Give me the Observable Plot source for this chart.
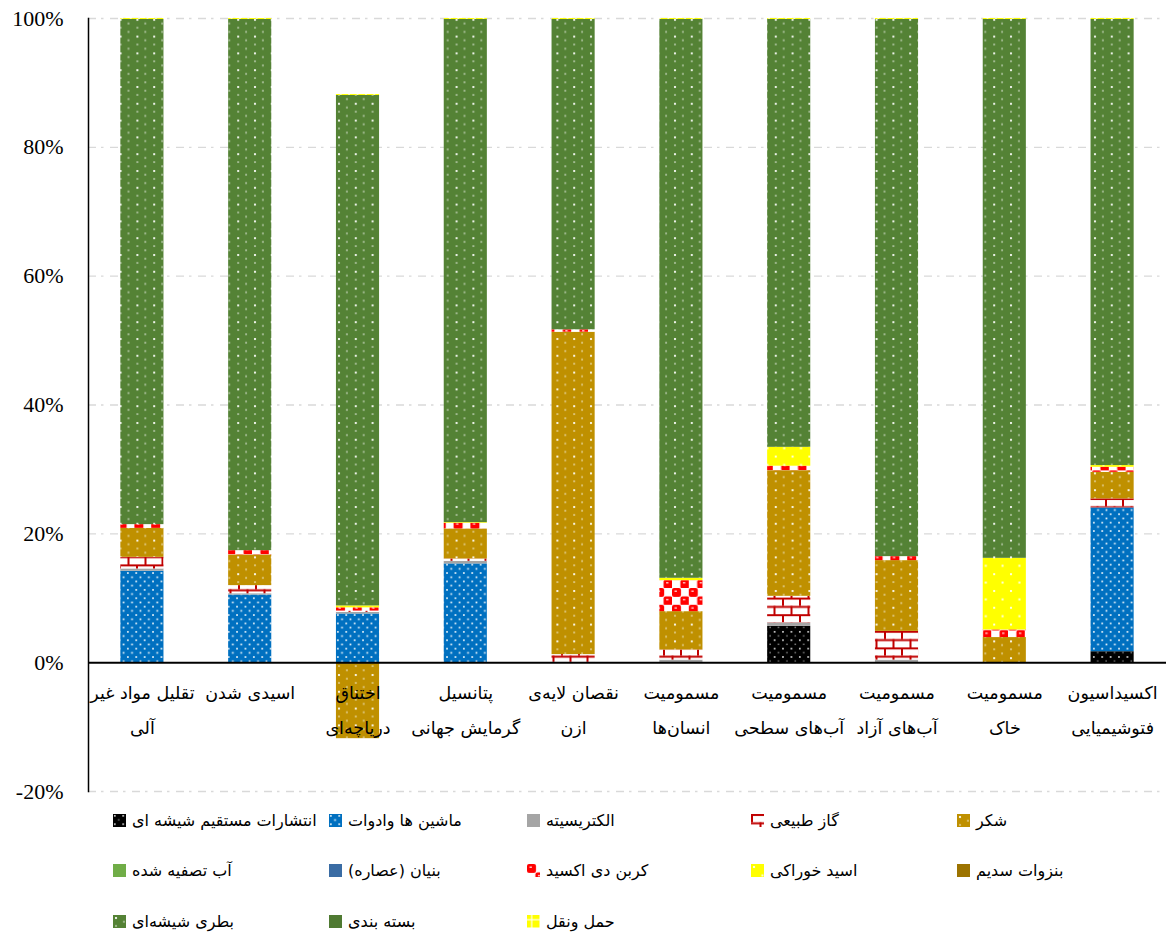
<!DOCTYPE html>
<html><head><meta charset="utf-8">
<script src="https://cdn.jsdelivr.net/npm/d3@7"></script>
<script src="https://cdn.jsdelivr.net/npm/@observablehq/plot@0.6"></script>
<style>
body{margin:0;background:#fff;}
#wrap{width:1166px;height:936px;position:relative;overflow:hidden;background:#fff;}
#legend{position:relative;width:1166px;height:136px;font-family:"DejaVu Sans",sans-serif;font-size:16px;color:#000;}
.item{position:absolute;display:flex;align-items:center;white-space:nowrap;height:20px;}
.item svg{display:block;}
.item span{direction:rtl;unicode-bidi:embed;margin-left:6px;}
</style></head><body>
<svg width="0" height="0" style="position:absolute">
<defs>
<pattern id="p-emis" patternUnits="userSpaceOnUse" width="8.4" height="8.4">
 <rect width="8.4" height="8.4" fill="#000"/>
 <rect x="1" y="1" width="1.6" height="1.6" fill="#fff" opacity="0.9"/>
 <rect x="5.2" y="5.2" width="1" height="1.4" fill="#fff" opacity="0.8"/>
</pattern>
<pattern id="p-mach" patternUnits="userSpaceOnUse" width="8.4" height="8.4">
 <rect width="8.4" height="8.4" fill="#0070C0"/>
 <rect x="1" y="1" width="1.7" height="1.7" fill="#fff" opacity="0.9"/>
 <rect x="5.2" y="5.2" width="1.7" height="1.7" fill="#fff" opacity="0.9"/>
</pattern>
<pattern id="p-gas" patternUnits="userSpaceOnUse" width="17" height="16.6">
 <rect width="17" height="16.6" fill="#fff"/>
 <rect x="0" y="0" width="17" height="2" fill="#C00000"/>
 <rect x="0" y="8.3" width="17" height="2" fill="#C00000"/>
 <rect x="0" y="0" width="2" height="8.3" fill="#C00000"/>
 <rect x="8.5" y="8.3" width="2" height="8.3" fill="#C00000"/>
</pattern>
<pattern id="p-sugar" patternUnits="userSpaceOnUse" width="16.8" height="16.8">
 <rect width="16.8" height="16.8" fill="#BF9000"/>
 <rect x="2" y="2" width="2" height="2" fill="#fff" opacity="0.9"/>
 <rect x="2" y="10.4" width="2" height="1" fill="#fff" opacity="0.85"/>
 <rect x="10.4" y="5.7" width="1" height="2" fill="#fff" opacity="0.85"/>
 <rect x="10.4" y="14.1" width="1" height="2" fill="#fff" opacity="0.85"/>
</pattern>
<pattern id="p-bottle" patternUnits="userSpaceOnUse" width="16.8" height="16.8">
 <rect width="16.8" height="16.8" fill="#548235"/>
 <rect x="2" y="2" width="2" height="2" fill="#fff" opacity="0.9"/>
 <rect x="2" y="10.4" width="2" height="1" fill="#fff" opacity="0.85"/>
 <rect x="10.4" y="5.7" width="1" height="2" fill="#fff" opacity="0.85"/>
 <rect x="10.4" y="14.1" width="1" height="2" fill="#fff" opacity="0.85"/>
</pattern>
<pattern id="p-co2" patternUnits="userSpaceOnUse" width="16.8" height="16.8">
 <rect width="16.8" height="16.8" fill="#fff"/>
 <rect x="0" y="0" width="9" height="9" rx="2" fill="#FF0000"/>
 <rect x="8.4" y="8.4" width="9" height="9" rx="2" fill="#FF0000"/>
 <rect x="2.5" y="2.5" width="2.4" height="1.4" fill="#fff" opacity="0.8"/>
 <rect x="10.9" y="10.9" width="2.4" height="1.4" fill="#fff" opacity="0.8"/>
</pattern>
<pattern id="p-acid" patternUnits="userSpaceOnUse" width="16.8" height="16.8">
 <rect width="16.8" height="16.8" fill="#FFFF00"/>
 <rect x="2" y="2" width="2" height="2" fill="#fff" opacity="0.9"/>
 <rect x="10.4" y="10.4" width="2" height="2" fill="#fff" opacity="0.9"/>
</pattern>
<pattern id="p-trans" patternUnits="userSpaceOnUse" width="8.4" height="8.4">
 <rect width="8.4" height="8.4" fill="#FFFF00"/>
 <rect x="0" y="4" width="8.4" height="1.4" fill="#fff" opacity="0.8"/>
 <rect x="4" y="0" width="1.4" height="8.4" fill="#fff" opacity="0.8"/>
</pattern>
</defs></svg>
<div id="wrap"><div id="chart"></div><div id="legend"></div></div>
<script>
// ---- Data ----
const categories = [
  "تقلیل مواد غیر آلی", "اسیدی شدن", "اختناق دریاچه‌ای", "پتانسیل گرمایش جهانی",
  "نقصان لایه‌ی ازن", "مسمومیت انسان‌ها", "مسمومیت آب‌های سطحی",
  "مسمومیت آب‌های آزاد", "مسمومیت خاک", "اکسیداسیون فتوشیمیایی"
];
const categoryLabels = [
  "تقلیل مواد غیر\nآلی", "اسیدی شدن", "اختناق\nدریاچه‌ای", "پتانسیل\nگرمایش جهانی",
  "نقصان لایه‌ی\nازن", "مسمومیت\nانسان‌ها", "مسمومیت\nآب‌های سطحی",
  "مسمومیت\nآب‌های آزاد", "مسمومیت\nخاک", "اکسیداسیون\nفتوشیمیایی"
];
const series = [
  "انتشارات مستقیم شیشه ای", "ماشین ها وادوات", "الکتریسیته", "گاز طبیعی", "شکر",
  "آب تصفیه شده", "بنیان (عصاره)", "کربن دی اکسید", "اسید خوراکی", "بنزوات سدیم",
  "بطری شیشه‌ای", "بسته بندی", "حمل ونقل"
];
const directEmissions = [0, 0, 0, 0, 0, 0, 5.64, 0, 0, 1.7];
const machinery      = [14.2, 10.5, 7.56, 15.33, 0, 0, 0, 0, 0, 22.32];
const electricity    = [0.35, 0.2, 0.25, 0.4, 0.05, 0.4, 0.53, 0.4, 0, 0];
const naturalGas     = [1.8, 1.26, 0.2, 0.37, 1.2, 1.57, 4.13, 4.46, 0, 1.4];
const sugar          = [4.5, 4.76, -11.8, 4.66, 50.05, 5.95, 19.5, 10.98, 3.9, 4.13];
const purifiedWater  = [0, 0, 0, 0, 0, 0, 0, 0, 0, 0];
const extractBase    = [0, 0, 0, 0, 0, 0, 0, 0, 0, 0];
const carbonDioxide  = [0.58, 0.67, 0.5, 0.87, 0.37, 4.81, 0.7, 0.62, 1.18, 0.78];
const foodAcid       = [0, 0, 0.3, 0.11, 0, 0.37, 2.93, 0, 11.12, 0.27];
const sodiumBenzoate = [0, 0, 0, 0, 0, 0, 0, 0, 0, 0];
const glassBottle    = [78.42, 82.46, 79.24, 78.11, 48.18, 86.75, 66.42, 83.39, 83.65, 69.25];
const packaging      = [0, 0, 0, 0, 0, 0, 0, 0, 0, 0];
const transport      = [0.15, 0.15, 0.15, 0.15, 0.15, 0.15, 0.15, 0.15, 0.15, 0.15];
const yTicks = [-20, 0, 20, 40, 60, 80, 100];

// ---- Build table ----
const seriesValues = [directEmissions, machinery, electricity, naturalGas, sugar,
  purifiedWater, extractBase, carbonDioxide, foodAcid, sodiumBenzoate,
  glassBottle, packaging, transport];
const fills = ["url(#p-emis)", "url(#p-mach)", "#A5A5A5", "url(#p-gas)", "url(#p-sugar)",
  "#70AD47", "#3A6CA4", "url(#p-co2)", "url(#p-acid)", "#9C7300",
  "url(#p-bottle)", "#4F7A32", "url(#p-trans)"];
const table = [];
categories.forEach((c, ci) => {
  series.forEach((s, si) => {
    table.push({category: c, series: s, value: seriesValues[si][ci]});
  });
});

const chart = Plot.plot({
  width: 1166, height: 800,
  marginTop: 18, marginBottom: 9, marginLeft: 88, marginRight: 0,
  style: {background: "#fff", overflow: "visible"},
  x: {domain: categories, paddingInner: 0.6, paddingOuter: 0.3, round: false, axis: null},
  y: {domain: [-20, 100]},
  color: {domain: series, range: fills},
  marks: [
    Plot.ruleY(yTicks.filter(d => d !== 0), {stroke: "#d9d9d9", strokeWidth: 1.4, strokeDasharray: "8,5,2.5,6.5"}),
    Plot.barY(table, {x: "category", y: "value", fill: "series", order: null}),
    Plot.ruleY([0], {stroke: "#000", strokeWidth: 2}),
    Plot.frame({anchor: "left", stroke: "#000", strokeWidth: 1.5}),
    Plot.axisY({ticks: yTicks, tickSize: 0, tickPadding: 25, label: null,
      tickFormat: d => d + "%", fontSize: 22, fontFamily: "Liberation Serif", fill: "#000"}),
    Plot.text(categories, {x: d => d, y: 0, text: (d, i) => categoryLabels[i],
      lineAnchor: "top", dy: 11, lineHeight: 2.0, fontSize: 17.5,
      fontFamily: "DejaVu Sans", fill: "#000"})
  ]
});
document.getElementById("chart").appendChild(chart);

// ---- Legend (uses the chart's color scale) ----
const color = chart.scale("color");
const legend = document.getElementById("legend");
const colX = [113, 329, 527, 751, 957];
const rowY = [10, 60, 111];
series.forEach((s, i) => {
  const item = document.createElement("div");
  item.className = "item";
  item.style.left = colX[i % 5] + "px";
  item.style.top = rowY[Math.floor(i / 5)] + "px";
  const svg = d3.create("svg").attr("width", 13).attr("height", 13);
  svg.append("rect").attr("x", -2).attr("y", -2).attr("width", 17).attr("height", 17)
    .attr("fill", color.apply(s));
  item.appendChild(svg.node());
  const t = document.createElement("span");
  t.textContent = s;
  item.appendChild(t);
  legend.appendChild(item);
});
</script>
</body></html>
